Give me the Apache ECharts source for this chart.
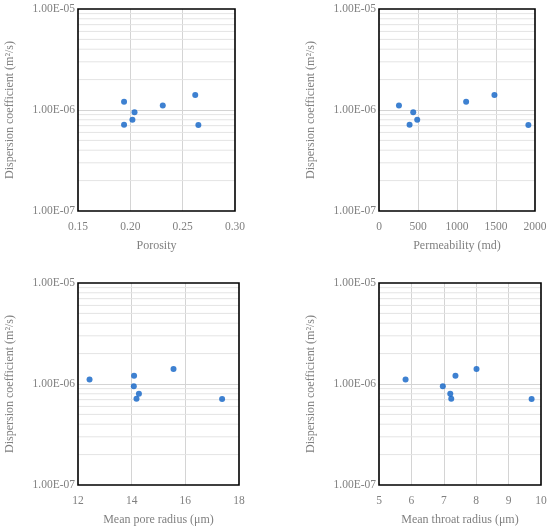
<!DOCTYPE html>
<html>
<head>
<meta charset="utf-8">
<script src="https://cdn.jsdelivr.net/npm/echarts@6/dist/echarts.min.js"></script>
<style>
html,body{margin:0;padding:0;background:#fff}
#main{width:550px;height:530px}
</style>
</head>
<body>
<div id="main"></div>
<script>
// dispersion coefficient (m2/s) of the 7 samples
var dispersion = [1.21e-6, 7.15e-7, 9.5e-7, 8.0e-7, 1.11e-6, 1.41e-6, 7.1e-7];
var porosity = [0.194, 0.194, 0.204, 0.202, 0.231, 0.262, 0.265];
var permeability = [1117, 392, 439, 490, 256, 1480, 1915];
var poreRadius = [14.09, 14.18, 14.08, 14.27, 12.43, 15.56, 17.37];
var throatRadius = [7.36, 7.23, 6.97, 7.20, 5.82, 8.01, 9.71];

// minor gridlines of the log axis
var minorLines = [2e-7, 3e-7, 4e-7, 5e-7, 6e-7, 7e-7, 8e-7, 9e-7,
                  2e-6, 3e-6, 4e-6, 5e-6, 6e-6, 7e-6, 8e-6, 9e-6];

var xNames = ['Porosity', 'Permeability (md)', 'Mean pore radius (\u03bcm)', 'Mean throat radius (\u03bcm)'];
var xMin = [0.15, 0, 12, 5];
var xMax = [0.30, 2000, 18, 10];
var xStep = [0.05, 500, 2, 1];
var xData = [porosity, permeability, poreRadius, throatRadius];

var grids = [
    {left: 78, top: 9, width: 157, height: 202},
    {left: 379, top: 9, width: 156, height: 202},
    {left: 78, top: 283, width: 161, height: 202},
    {left: 379, top: 283, width: 162, height: 202}
];

var font = '"Liberation Serif", "Times New Roman", serif';
var grey = '#808080';

function expLabel(v) {
    var p = v.toExponential(2).toUpperCase().split('E');
    var e = parseInt(p[1], 10);
    return p[0] + 'E' + (e < 0 ? '-' : '+') + (Math.abs(e) < 10 ? '0' : '') + Math.abs(e);
}

// horizontal minor gridline across the whole grid
function minorRender(params, api) {
    var cs = params.coordSys;
    var y = api.coord([api.value(0), api.value(1)])[1];
    return {
        type: 'line',
        shape: {x1: cs.x, y1: y, x2: cs.x + cs.width, y2: y},
        style: {stroke: '#e4e4e4', lineWidth: 1}
    };
}

var myChart = echarts.init(document.getElementById('main'));

var option = {
    animation: false,
    grid: [], xAxis: [], yAxis: [], series: []
};

for (var i = 0; i < 4; i++) {
    var g = grids[i];
    option.grid.push({
        left: g.left, top: g.top, width: g.width, height: g.height,
        show: true, borderColor: '#000', borderWidth: 1.6, z: 3
    });
    option.xAxis.push({
        gridIndex: i, type: 'value',
        min: xMin[i], max: xMax[i], interval: xStep[i],
        name: xNames[i], nameLocation: 'middle', nameGap: 29,
        nameTextStyle: {color: grey, fontFamily: font, fontSize: 12},
        axisLine: {show: false}, axisTick: {show: false},
        axisLabel: {
            color: grey, fontFamily: font, fontSize: 11.5, margin: 10,
            formatter: (function (k) {
                return function (v) { return k === 0 ? v.toFixed(2) : String(v); };
            })(i)
        },
        splitLine: {show: true, showMinLine: false, showMaxLine: false,
                    lineStyle: {color: '#d4d4d4', width: 1}}
    });
    option.yAxis.push({
        gridIndex: i, type: 'log', logBase: 10, min: 1e-7, max: 1e-5,
        name: 'Dispersion coefficient (m\u00b2/s)', nameLocation: 'middle', nameGap: 62,
        nameTextStyle: {color: grey, fontFamily: font, fontSize: 12},
        axisLine: {show: false}, axisTick: {show: false},
        axisLabel: {color: grey, fontFamily: font, fontSize: 11.5, margin: 3, formatter: expLabel},
        splitLine: {show: true, showMinLine: false, showMaxLine: false,
                    lineStyle: {color: '#d4d4d4', width: 1}}
    });
    option.series.push({
        type: 'custom', xAxisIndex: i, yAxisIndex: i, z: 1, silent: true,
        renderItem: minorRender,
        data: minorLines.map(function (v) { return [xMin[i], v]; })
    });
    var pts = [];
    for (var j = 0; j < dispersion.length; j++) {
        pts.push([xData[i][j], dispersion[j]]);
    }
    option.series.push({
        type: 'scatter', xAxisIndex: i, yAxisIndex: i, z: 4,
        symbol: 'circle', symbolSize: 6,
        itemStyle: {color: '#0e62c6'},
        data: pts
    });
}

myChart.setOption(option);
</script>
</body>
</html>
